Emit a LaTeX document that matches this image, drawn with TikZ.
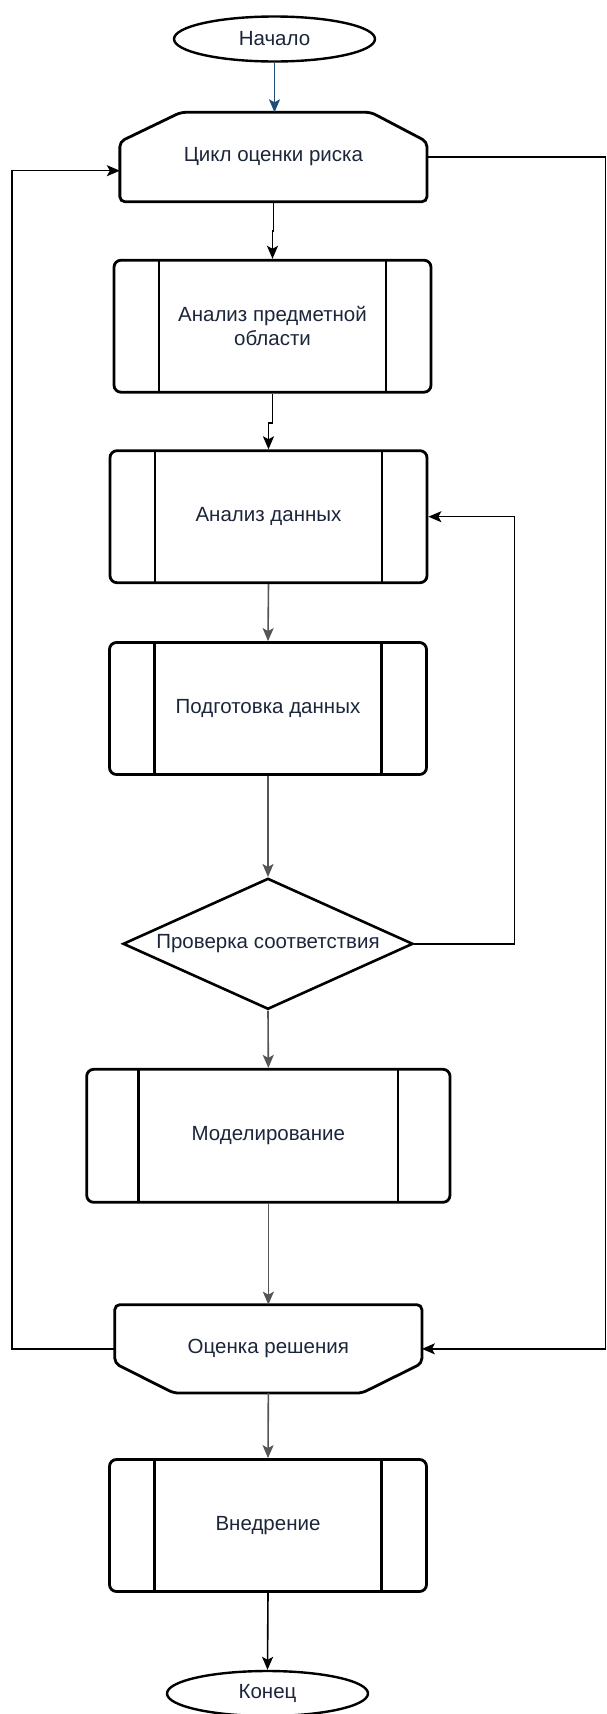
\documentclass[tikz,border=0pt]{standalone}
\usepackage{fontspec}
\setmainfont{Liberation Sans}
\usetikzlibrary{shapes.geometric,arrows.meta}
\definecolor{txt}{RGB}{28,38,58}
\definecolor{navy}{RGB}{31,78,121}
\definecolor{wire}{RGB}{85,85,85}

\begin{document}
\begin{tikzpicture}[x=1pt,y=-1pt,font=\fontsize{20.5}{24}\selectfont,
    every node/.style={text=txt},
    stream/.style={-{Stealth[length=13pt,width=11pt,inset=3pt]},line width=1.6pt},
    feed/.style={-{Stealth[length=13pt,width=11pt,inset=3pt]},line width=1.4pt},
    term/.style={draw,ellipse,line width=2.4pt,minimum width=201pt,minimum height=45pt,inner sep=0pt},
    procbox/.style={draw,line width=2.8pt,rounded corners=7pt,minimum width=317pt,minimum height=132pt,align=center,
        path picture={
            \draw[line width=2.8pt] ([xshift=#1]path picture bounding box.north west) -- ([xshift=#1]path picture bounding box.south west);
            \draw[line width=2.8pt] ([xshift=-#1]path picture bounding box.north east) -- ([xshift=-#1]path picture bounding box.south east);}},
    procbox/.default=45pt,
    limit/.style={rectangle,minimum width=306.7pt,minimum height=89pt,inner sep=0pt},
    outline/.style={line width=2.8pt,rounded corners=5pt},
    decision/.style={draw,diamond,line width=2.6pt,aspect=2.2,minimum width=290pt,minimum height=131pt,inner sep=1pt}]
    \path[use as bounding box,fill=white] (0,0) rectangle (606,1714);
    %terminals
    \node[term] (start) at (274.5,39) {Начало};
    \node[term] (stop) at (267.5,1693.5) {Конец};
    %loop limits
    \node[limit] (riskloop) at (273.4,157) {Цикл оценки риска};
    \draw[outline] ([xshift=61pt]riskloop.north west) -- ([xshift=-56pt]riskloop.north east)
        -- ([yshift=-29.4pt]riskloop.north east) -- (riskloop.south east) -- (riskloop.south west)
        -- ([yshift=-29.4pt]riskloop.north west) -- cycle;
    \node[limit,minimum height=88pt] (evalsol) at (268.35,1348.85) {Оценка решения};
    \draw[outline] (evalsol.north west) -- (evalsol.north east) -- ([yshift=29.7pt]evalsol.south east)
        -- ([xshift=-60pt]evalsol.south east) -- ([xshift=59pt]evalsol.south west)
        -- ([yshift=29.7pt]evalsol.south west) -- cycle;
    %processes
    \node[procbox] (domain) at (272.5,326.2) {Анализ предметной\\области};
    \node[procbox] (dataan) at (268.5,516.7) {Анализ данных};
    \node[procbox] (dataprep) at (268,708.5) {Подготовка данных};
    \node[decision] (check) at (268,943.8) {Проверка соответствия};
    \node[procbox=52pt,minimum width=363.3pt,minimum height=133pt] (model) at (268.35,1135.8) {Моделирование};
    \node[procbox] (deploy) at (268,1525.5) {Внедрение};
    %main flow
    \draw[stream,navy] (start.south) -- (start.south |- riskloop.north);
    \draw[stream] (riskloop.south) -- ++(0,29) -| (domain.north);
    \draw[stream] (domain.south) -- ++(0,29.4) -| (dataan.north);
    \draw[stream,wire] (dataan.south) -- (dataprep.north);
    \draw[stream,wire] (dataprep.south) -- (check.north);
    \draw[stream,wire] (check.south) -- (model.north);
    \draw[stream,wire] (model.south) -- (evalsol.north);
    \draw[stream,wire] (evalsol.south) -- (deploy.north);
    \draw[stream] (deploy.south) -- (stop.north);
    %feedback
    \draw[feed] (check.east) -- ++(100,0) |- (dataan.east);
    \draw[feed] (evalsol.west) -- ++(-102.7,0) |- ([yshift=-13.7pt]riskloop.west);
    \draw[feed] (riskloop.east) -- ++(178.5,0) |- (evalsol.east);
\end{tikzpicture}
\end{document}
